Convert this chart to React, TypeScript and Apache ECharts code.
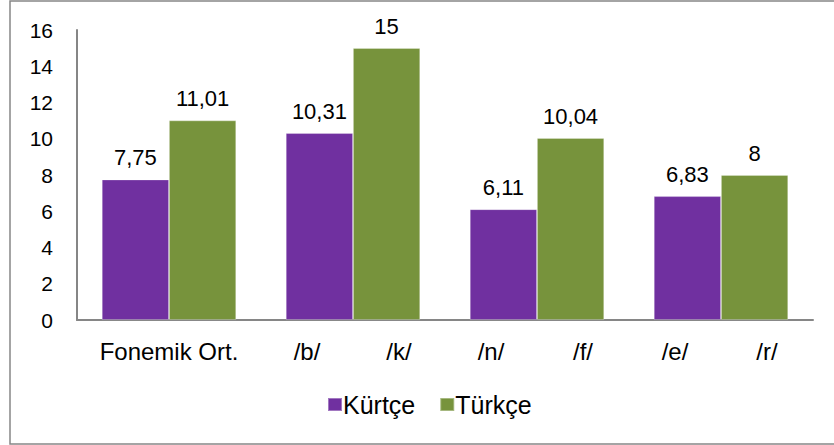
import React, { useEffect, useRef } from "react";
import * as echarts from "echarts";

const categories = ["Fonemik Ort.", "/b/-/k/", "/n/-/f/", "/e/-/r/"];
const axisLabels = ["Fonemik Ort.", "/b/", "/k/", "/n/", "/f/", "/e/", "/r/"];
const kurtce = [7.75, 10.31, 6.11, 6.83];
const turkce = [11.01, 15, 10.04, 8];
const seriesNames = ["Kürtçe", "Türkçe"];

const FONT = "Liberation Sans";

function fmt(v: number): string {
  return String(v).replace(".", ",");
}

export default function App() {
  const ref = useRef<HTMLDivElement>(null);
  useEffect(() => {
    if (!ref.current) return;
    const chart = echarts.init(ref.current, undefined, { renderer: "svg" });
    const labelFor = (v: number): string => {
      if (v === 2) return axisLabels[0];
      if (v >= 5 && v % 2 === 1) {
        const i = (v - 3) / 2;
        return axisLabels[i] ?? "";
      }
      return "";
    };
    const valueLabel = {
      show: true,
      position: "top",
      distance: 11,
      fontSize: 22,
      color: "#000",
      fontFamily: FONT,
      formatter: (p: any) => fmt(p.value),
    };
    chart.setOption({
      animation: false,
      textStyle: { fontFamily: FONT },
      grid: { left: 77, right: 21, top: 30, bottom: 125, containLabel: false },
      legend: {
        data: seriesNames,
        icon: "rect",
        itemWidth: 14,
        itemHeight: 13,
        itemGap: 24,
        left: 322,
        top: 387,
        textStyle: { fontSize: 25, color: "#000", fontFamily: FONT, padding: [0, 0, 0, -4] },
      },
      xAxis: [
        {
          type: "category",
          data: categories,
          axisLine: { show: true, lineStyle: { color: "#868686", width: 2 } },
          axisTick: { show: false },
          axisLabel: { show: false },
        },
        {
          type: "value",
          min: 0,
          max: 16,
          interval: 1,
          position: "bottom",
          axisLine: { show: false },
          axisTick: { show: false },
          splitLine: { show: false },
          axisLabel: {
            show: true,
            margin: 19,
            fontSize: 24,
            color: "#000",
            fontFamily: FONT,
            formatter: (v: number) => labelFor(v),
          },
        },
      ],
      yAxis: {
        type: "value",
        min: 0,
        max: 16,
        interval: 2,
        axisLine: { show: true, lineStyle: { color: "#868686", width: 2 } },
        axisTick: { show: false },
        splitLine: { show: false },
        axisLabel: { margin: 24, fontSize: 21, color: "#000", fontFamily: FONT },
      },
      series: [
        {
          name: seriesNames[0],
          type: "bar",
          data: kurtce,
          barGap: "0%",
          barCategoryGap: "27%",
          itemStyle: { color: "#7030A0", borderColor: "rgba(255,255,255,0.35)", borderWidth: 0.8 },
          label: valueLabel,
        },
        {
          name: seriesNames[1],
          type: "bar",
          data: turkce,
          barGap: "0%",
          barCategoryGap: "27%",
          itemStyle: { color: "#77933C", borderColor: "rgba(255,255,255,0.35)", borderWidth: 0.8 },
          label: valueLabel,
        },
      ],
      graphic: [
        {
          type: "rect",
          shape: { x: 10, y: 1, width: 840, height: 443 },
          style: { fill: "none", stroke: "#868686", lineWidth: 1.5 },
          silent: true,
        },
      ],
    });
    return () => chart.dispose();
  }, []);
  return (
    <div
      ref={ref}
      style={{ position: "absolute", left: 0, top: 0, width: 834, height: 445, background: "#fff" }}
    />
  );
}
